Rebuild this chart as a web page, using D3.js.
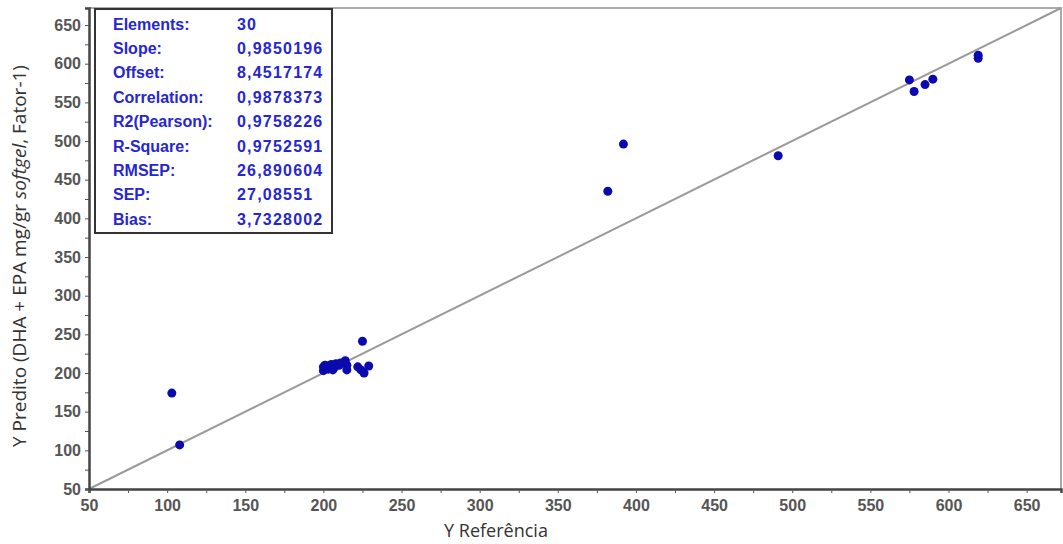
<!DOCTYPE html>
<html>
<head>
<meta charset="utf-8">
<script src="https://cdn.jsdelivr.net/npm/d3@7"></script>
<style>
    body { margin: 0; background: #fff; }
</style>
</head>
<body>
<div id="chart"></div>
<script>
// reference values (x) and predicted values (y)
var refValues = [103, 108, 200, 200, 201, 203, 204, 205, 206, 207, 208, 210, 211, 214, 215, 215, 222, 224, 226, 229, 225,
    382, 392, 491, 575, 578, 585, 590, 619, 619];
var predValues = [174, 107, 203, 208, 210, 205, 209, 211, 204, 207, 212, 210, 213, 216, 210, 204, 208, 204, 200, 209, 241,
    435, 496, 481, 579, 564, 573, 580, 611, 607];

var tickValues = [50, 100, 150, 200, 250, 300, 350, 400, 450, 500, 550, 600, 650];

var statLabels = ["Elements:", "Slope:", "Offset:", "Correlation:", "R2(Pearson):", "R-Square:", "RMSEP:", "SEP:", "Bias:"];
var statValues = ["30", "0,9850196", "8,4517174", "0,9878373", "0,9758226", "0,9752591", "26,890604", "27,08551", "3,7328002"];

function init() {
    const w = 1063;
    const h = 544;
    var margin = { top: 8, right: 2, bottom: 55, left: 89 };

    var svg = d3.select("#chart")
        .append("svg")
        .attr("width", w)
        .attr("height", h);

    var xScale = d3.scaleLinear()
        .domain([50, 672])
        .range([margin.left, w - margin.right]);

    var yScale = d3.scaleLinear()
        .domain([50, 672])
        .range([h - margin.bottom, margin.top]);

    var minor = d3.range(50, 672, 25);

    // light frame top and right
    svg.append("path")
        .attr("d", "M" + xScale(50) + "," + yScale(672) + "H" + xScale(672) + "V" + yScale(50))
        .attr("fill", "none")
        .attr("stroke", "#aaa")
        .attr("stroke-width", 2);

    // target line y = x
    svg.append("line")
        .attr("x1", xScale(50))
        .attr("y1", yScale(50))
        .attr("x2", xScale(672))
        .attr("y2", yScale(672))
        .attr("stroke", "#9a9a9a")
        .attr("stroke-width", 2);

    // axes
    var xAxis = svg.append("g")
        .attr("transform", "translate(0," + yScale(50) + ")")
        .call(d3.axisBottom(xScale).tickValues(minor).tickSize(4).tickFormat(function (d) {
            return tickValues.indexOf(d) >= 0 ? d : "";
        }));

    var yAxis = svg.append("g")
        .attr("transform", "translate(" + xScale(50) + ",0)")
        .call(d3.axisLeft(yScale).tickValues(minor).tickSize(4).tickFormat(function (d) {
            return tickValues.indexOf(d) >= 0 ? d : "";
        }));

    [xAxis, yAxis].forEach(function (ax) {
        ax.select(".domain").attr("stroke", "#444").attr("stroke-width", 2.5);
        ax.selectAll(".tick line").attr("stroke", "#555");
        ax.selectAll(".tick text")
            .attr("fill", "#555")
            .style("font-family", "Arial, 'Liberation Sans', sans-serif")
            .style("font-size", "16px")
            .style("font-weight", "bold");
    });
    xAxis.selectAll(".tick text").attr("dy", "0.95em");
    yAxis.selectAll(".tick text").attr("x", -8);

    // points
    svg.append("g")
        .selectAll("circle")
        .data(refValues)
        .enter()
        .append("circle")
        .attr("cx", (d) => xScale(d))
        .attr("cy", (d, i) => yScale(predValues[i]))
        .attr("r", 4.5)
        .attr("fill", "#0a0aae");

    // stats box
    var box = svg.append("g");
    box.append("rect")
        .attr("x", 95)
        .attr("y", 9)
        .attr("width", 237)
        .attr("height", 224)
        .attr("fill", "#fff")
        .attr("stroke", "#333")
        .attr("stroke-width", 2);

    box.selectAll(".lbl")
        .data(statLabels)
        .enter()
        .append("text")
        .attr("x", 113)
        .attr("y", (d, i) => 24 + i * 24.4)
        .text((d) => d);

    box.selectAll(".val")
        .data(statValues)
        .enter()
        .append("text")
        .attr("class", "val")
        .attr("x", 237)
        .attr("y", (d, i) => 24 + i * 24.4)
        .text((d) => d);

    box.selectAll("text")
        .attr("dy", "0.35em")
        .attr("fill", "#2626d2")
        .style("font-family", "Arial, 'Liberation Sans', sans-serif")
        .style("font-size", "16px")
        .style("font-weight", "bold");
    box.selectAll("text.val").style("letter-spacing", "1.2px");

    // axis titles
    svg.append("text")
        .attr("x", 496)
        .attr("y", 537)
        .attr("text-anchor", "middle")
        .attr("fill", "#333")
        .style("font-family", "'Open Sans', sans-serif")
        .style("font-size", "18px")
        .text("Y Referência");

    var yTitle = svg.append("text")
        .attr("transform", "translate(26,256) rotate(-90)")
        .attr("text-anchor", "middle")
        .attr("fill", "#333")
        .style("font-family", "'Open Sans', sans-serif")
        .style("font-size", "19px");
    yTitle.append("tspan").text("Y Predito (DHA + EPA mg/gr ");
    yTitle.append("tspan").style("font-style", "italic").text("softgel");
    yTitle.append("tspan").text(", Fator-1)");
}
window.onload = init();
</script>
</body>
</html>
